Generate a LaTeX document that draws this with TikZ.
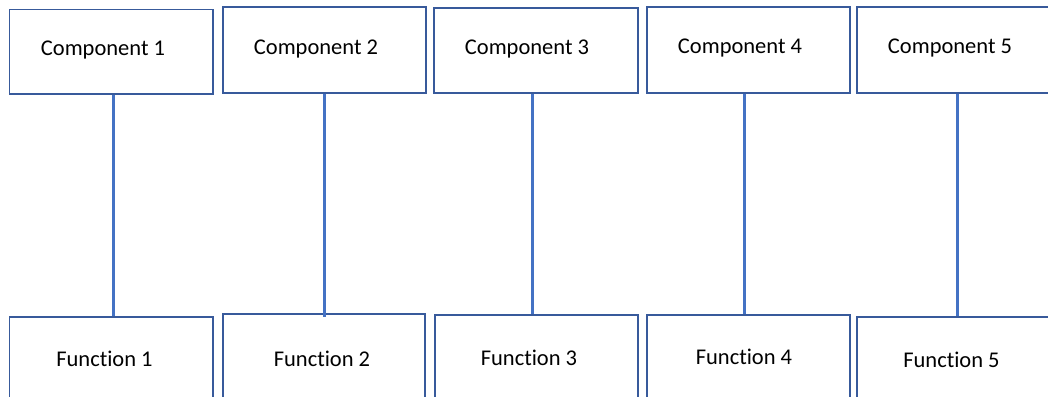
\documentclass[tikz,border=0pt]{standalone}
\usepackage{fontspec}
\setmainfont[Ligatures=NoCommon]{Carlito}
\definecolor{boxline}{RGB}{56,90,155}
\definecolor{linkline}{RGB}{68,114,196}
\tikzset{
  unitbox/.style={draw=boxline, line width=1.8pt, fill=white, rectangle, inner sep=0pt, anchor=north west},
  caption/.style={inner sep=0pt, anchor=base, font=\fontsize{22.5}{27}\selectfont, text=black},
  link/.style={draw=linkline, line width=3pt}
}
\newcommand{\unitrect}[5]{% name, x1, y1, x2, y2
  \node[unitbox, minimum width=#4pt-#2pt, minimum height=#5pt-#3pt] (#1) at (#2,#3) {};}
\begin{document}
\begin{tikzpicture}[x=1pt, y=-1pt]
  \useasboundingbox (0,0) rectangle (1048,396);
  \fill[white] (0,0) rectangle (1048,396);

  % component boxes
  \unitrect{c1}{8.5}{8.7}{212}{93}
  \unitrect{c2}{222}{6}{425}{92}
  \unitrect{c3}{433}{7}{637}{92}
  \unitrect{c4}{646}{6}{849}{92}
  \unitrect{c5}{856}{6}{1060}{92}

  % function boxes
  \unitrect{f1}{8.5}{316}{212}{402}
  \unitrect{f2}{222}{313}{424}{402}
  \unitrect{f3}{434}{314}{637}{402}
  \unitrect{f4}{646}{314}{849}{402}
  \unitrect{f5}{856}{316}{1060}{402}

  % connectors
  \draw[link] (c1.south -| 113,0) -- (f1.north -| 113,0);
  \draw[link] (c2.south -| 324,0) -- ([yshift=-4pt]f2.north -| 324,0);
  \draw[link] (c3.south -| 532,0) -- (f3.north -| 532,0);
  \draw[link] (c4.south -| 744,0) -- (f4.north -| 744,0);
  \draw[link] (c5.south -| 957,0) -- (f5.north -| 957,0);

  % labels
  \node[caption] (t1) at (103,56) {Component 1};
  \node[caption] (t2) at (316,55) {Component 2};
  \node[caption] (t3) at (527,55) {Component 3};
  \node[caption] (t4) at (740,54) {Component 4};
  \node[caption] (t5) at (950,54) {Component 5};

  \node[caption] (u1) at (104.5,366.7) {Function 1};
  \node[caption] (u2) at (322,366) {Function 2};
  \node[caption] (u3) at (529,365) {Function 3};
  \node[caption] (u4) at (744,364) {Function 4};
  \node[caption] (u5) at (951.5,367) {Function 5};
\end{tikzpicture}
\end{document}
